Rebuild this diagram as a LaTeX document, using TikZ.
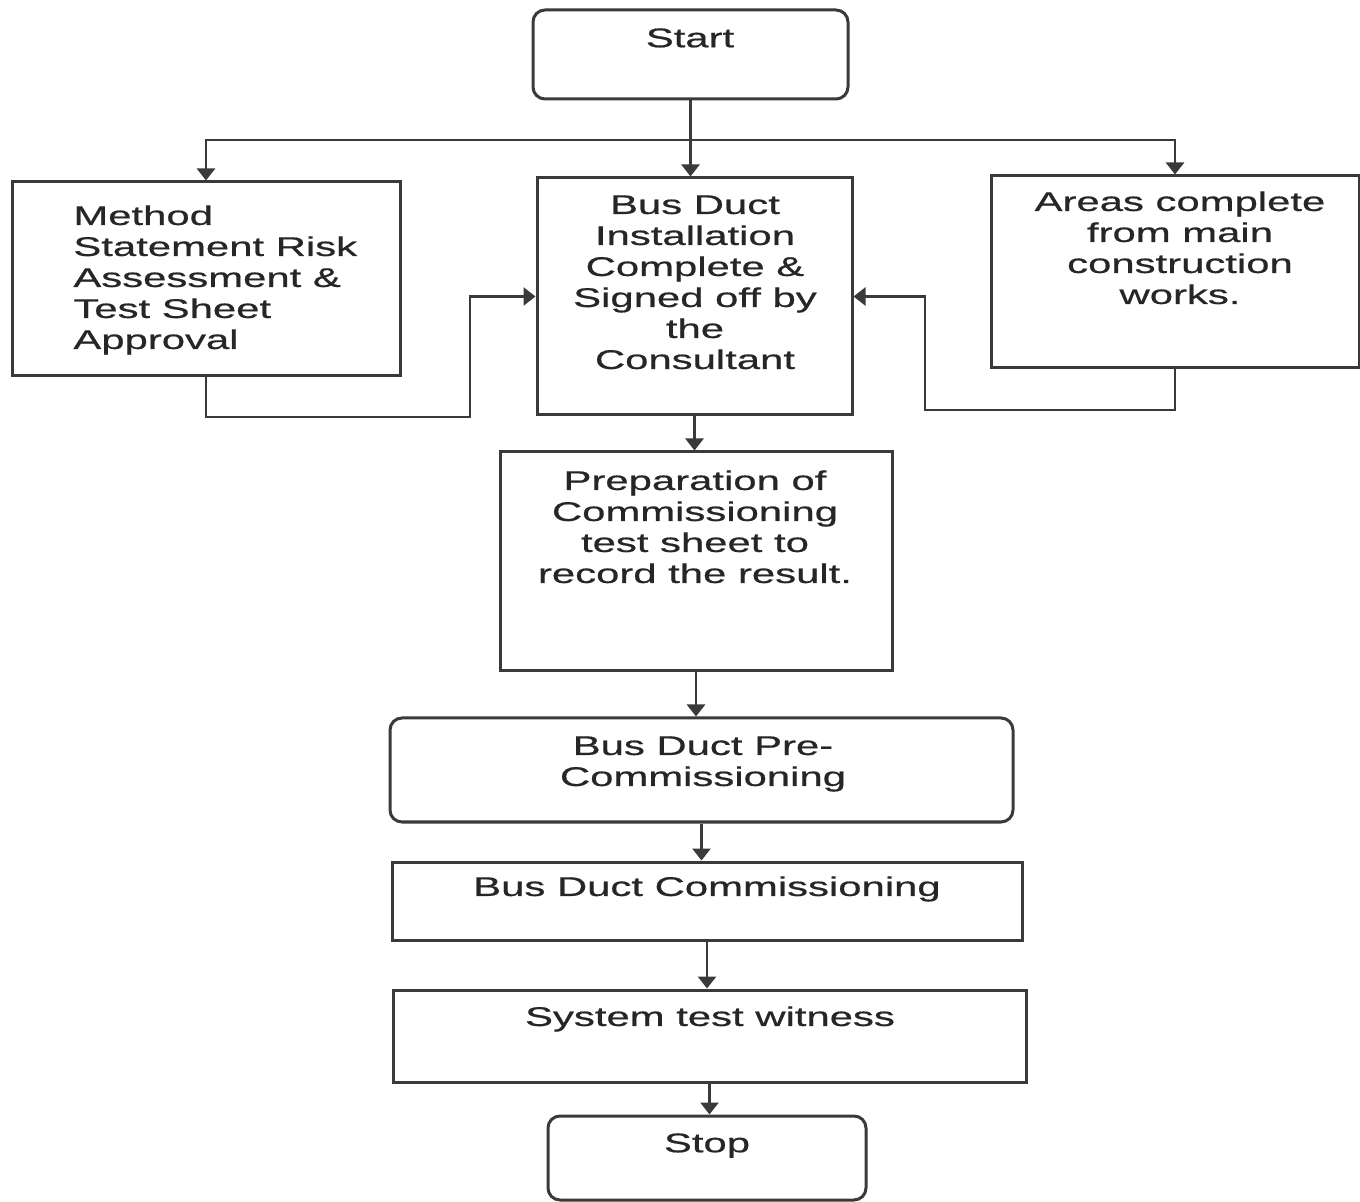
\documentclass[tikz,border=0pt]{standalone}
\usepackage{fontspec}
\setmainfont[FakeStretch=1.55,FakeBold=0.6]{Liberation Sans}
\usetikzlibrary{arrows.meta}
\definecolor{ln}{HTML}{3A3A3A}
\definecolor{tx}{HTML}{262626}
\tikzset{
  box/.style={draw=ln, line width=1.5pt, inner sep=0pt},
  rbox/.style={box, rounded corners=6pt},
  txt/.style={text=tx, inner sep=0pt, anchor=north, align=center,
    font=\fontsize{13.5pt}{15.5pt}\selectfont},
  ltxt/.style={txt, anchor=north west, align=left},
  conn/.style={draw=ln, line width=1.3pt},
  arr/.style={conn, -{Triangle[width=9pt,length=6pt]}},
}
\begin{document}
\begin{tikzpicture}[x=0.5pt,y=-0.5pt]
\useasboundingbox[fill=white] (0,0) rectangle (1360,1202);
% boxes
\node[rbox, minimum width=157.5pt, minimum height=44.5pt] (start) at (690.5,54.5) {};
\node[box, minimum width=194pt, minimum height=97pt] (method) at (206,279) {};
\node[box, minimum width=157.5pt, minimum height=118.5pt] (inst) at (694.5,296.5) {};
\node[box, minimum width=184pt, minimum height=96pt] (areas) at (1175,272) {};
\node[box, minimum width=196pt, minimum height=109.5pt] (prep) at (696,561.5) {};
\node[rbox, minimum width=311.5pt, minimum height=52pt] (pre) at (701.5,770) {};
\node[box, minimum width=315pt, minimum height=39pt] (comm) at (707,901) {};
\node[box, minimum width=316.5pt, minimum height=46pt] (sys) at (709.5,1036) {};
\node[rbox, minimum width=159pt, minimum height=42pt] (stop) at (707,1158) {};
% texts
\node[txt] (tstart) at (690,28) {Start};
\node[ltxt] (tmethod) at (73,205) {Method\\Statement Risk\\Assessment \&\\Test Sheet\\Approval};
\node[txt] (tinst) at (695,195) {Bus Duct\\Installation\\Complete \&\\Signed off by\\the\\Consultant};
\node[txt] (tareas) at (1180,191) {Areas complete\\from main\\construction\\works.};
\node[txt] (tprep) at (695,470) {Preparation of\\Commissioning\\test sheet to\\record the result.};
\node[txt] (tpre) at (703,736) {Bus Duct Pre-\\Commissioning};
\node[txt] (tcomm) at (707,876) {Bus Duct Commissioning};
\node[txt] (tsys) at (710,1006) {System test witness};
\node[txt] (tstop) at (707,1133) {Stop};
% connectors
\coordinate (j) at (690,140);
\coordinate (m1) at (470,417);
\coordinate (a1) at (925,410);
\draw[arr] (start.south) -- (start.south |- inst.north);
\draw[arr] (j) -| (method.north);
\draw[arr] (j) -| (areas.north);
\draw[arr] (method.south) |- (m1) |- (inst.west);
\draw[arr] (areas.south) |- (a1) |- (inst.east);
\draw[arr] (inst.south) -- (inst.south |- prep.north);
\draw[arr] (prep.south) -- (prep.south |- pre.north);
\draw[arr] (pre.south) -- (pre.south |- comm.north);
\draw[arr] (comm.south) -- (comm.south |- sys.north);
\draw[arr] (sys.south) -- (sys.south |- stop.north);
\end{tikzpicture}
\end{document}
